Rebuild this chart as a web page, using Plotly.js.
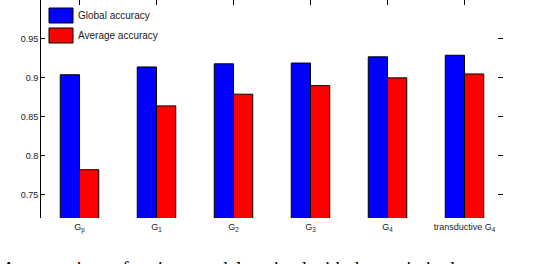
<!DOCTYPE html>
<html>
<head>
<meta charset="utf-8">
<script src="https://cdn.plot.ly/plotly-3.0.1.min.js"></script>
<style>html,body{margin:0;padding:0;background:#fff;overflow:hidden}#chart{width:538px;height:264px}</style>
</head>
<body>
<div id="chart"></div>
<script>
const categories = ['G<sub>p</sub>', 'G<sub>1</sub>', 'G<sub>2</sub>', 'G<sub>3</sub>', 'G<sub>4</sub>', 'transductive G<sub>4</sub>'];
const globalAccuracy = [0.904, 0.914, 0.918, 0.919, 0.927, 0.929];
const averageAccuracy = [0.782, 0.864, 0.879, 0.890, 0.900, 0.905];
const seriesNames = ['Global accuracy', 'Average accuracy'];
const yTickVals = [0.75, 0.8, 0.85, 0.9, 0.95];
const yTickText = ['0.75', '0.8', '0.85', '0.9', '0.95'];
const captionText = 'A comparison of various models trained with data ratio in the';

const idx = categories.map((_, i) => i);
const font = {family: 'Liberation Sans, Arial, sans-serif', size: 9, color: '#222'};

const traces = [
  {type: 'bar', x: idx, y: globalAccuracy, name: seriesNames[0],
   marker: {color: '#0000ff', line: {color: '#000', width: 1}}, showlegend: false},
  {type: 'bar', x: idx, y: averageAccuracy, name: seriesNames[1],
   marker: {color: '#ff0000', line: {color: '#000', width: 1}}, showlegend: false},
  {type: 'scatter', x: [null], y: [null], xaxis: 'x2', yaxis: 'y2', showlegend: false, hoverinfo: 'skip'}
];

const legendColors = ['#0000ff', '#ff0000'];
const shapes = [];
const annotations = [];
seriesNames.forEach((n, i) => {
  const plotH = 218, plotW = 462;
  const top = 8 + i * 20;
  shapes.push({type: 'rect', xref: 'paper', yref: 'paper',
    x0: (49 - 41) / plotW, x1: (73 - 41) / plotW,
    y0: 1 - (top + 15) / plotH, y1: 1 - top / plotH,
    fillcolor: legendColors[i], line: {color: '#000', width: 1}});
  annotations.push({xref: 'paper', yref: 'paper', x: (76 - 41) / plotW, y: 1 - (top + 7.5) / plotH,
    xanchor: 'left', yanchor: 'middle', text: n, showarrow: false,
    font: {family: 'Liberation Sans, Arial, sans-serif', size: 10, color: '#222'}});
});
annotations.push({xref: 'paper', yref: 'paper', x: 0, y: 0, xshift: -41, yshift: -38,
  xanchor: 'left', yanchor: 'top', text: captionText, showarrow: false,
  font: {family: 'Liberation Serif, Times New Roman, serif', size: 19, color: '#000'}});

const layout = {
  width: 538, height: 264,
  margin: {l: 41, r: 35, t: 0, b: 46, pad: 0},
  paper_bgcolor: '#fff', plot_bgcolor: '#fff',
  barmode: 'group', bargap: 0.5, bargroupgap: 0,
  showlegend: false,
  font: font,
  xaxis: {range: [-0.5, 5.5], tickvals: idx, ticktext: categories, ticks: '', showline: false,
    showgrid: false, zeroline: false, tickfont: font, fixedrange: true, ticklabelstandoff: 2},
  yaxis: {range: [0.72, 1.0], tickvals: yTickVals, ticktext: yTickText, ticks: 'inside', ticklen: 4,
    tickcolor: '#000', showline: true, linecolor: '#000', linewidth: 1, showgrid: false,
    zeroline: false, tickfont: font},
  xaxis2: {overlaying: 'x', side: 'top', range: [-0.5, 5.5], tickvals: idx, ticks: 'inside', ticklen: 5,
    tickcolor: '#000', showticklabels: false, showline: false, showgrid: false, zeroline: false},
  yaxis2: {overlaying: 'y', side: 'right', range: [0.72, 1.0], tickvals: yTickVals, ticks: 'inside', ticklen: 5,
    tickcolor: '#000', showticklabels: false, showline: false, showgrid: false, zeroline: false},
  shapes: shapes,
  annotations: annotations
};

Plotly.newPlot('chart', traces, layout, {staticPlot: true, displayModeBar: false});
</script>
</body>
</html>
